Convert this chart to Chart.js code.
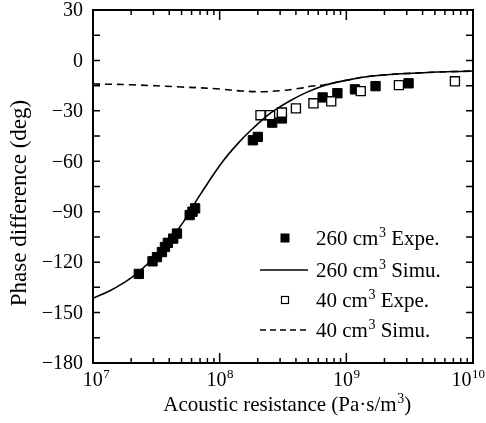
<!DOCTYPE html>
<html>
<head>
<meta charset="utf-8">
<script src="https://cdn.jsdelivr.net/npm/chart.js@4.4.0/dist/chart.umd.min.js"></script>
<style>
  html, body { margin: 0; padding: 0; background: #fff; }
  #wrap { width: 486px; height: 423px; }
</style>
</head>
<body>
<div id="wrap"><canvas id="chart" width="486" height="423"></canvas></div>
<script>
"use strict";

// measured values, 260 cm3 cavity
const exp260X = [2.3e7, 2.95e7, 3.2e7, 3.5e7, 3.7e7, 3.9e7, 4.3e7, 4.6e7, 5.8e7, 6.1e7, 6.4e7,
                 1.83e8, 2.0e8, 2.6e8, 3.1e8, 6.5e8, 8.5e8, 1.17e9, 1.7e9, 3.1e9];
const exp260Y = [-127, -119.5, -117, -114, -111, -108.5, -106, -103, -92, -90, -88,
                 -47.5, -45.5, -37, -34.5, -22, -19.5, -17.2, -15.3, -13.6];

// simulated, 260 cm3
const sim260X = [1e7, 1.36e7, 1.73e7, 2.2e7, 3.2e7, 4.86e7, 7.0e7, 1.06e8, 1.45e8, 1.74e8,
                 2.36e8, 2.8e8, 3.6e8, 4.85e8, 6.6e8, 8.9e8, 1.6e9, 4.1e9, 1e10];
const sim260Y = [-141.5, -137, -132.5, -127, -115.5, -99, -80, -60, -48, -42,
                 -33, -29, -24, -19, -15, -12.6, -9.3, -7.3, -6.3];

// measured, 40 cm3
const exp40X = [2.1e8, 2.5e8, 3.1e8, 4.0e8, 5.5e8, 7.6e8, 1.3e9, 2.6e9, 7.2e9];
const exp40Y = [-32.6, -32.6, -31, -28.5, -25.5, -24.3, -18.3, -14.7, -12.4];

// simulated, 40 cm3
const sim40X = [1e7, 2e7, 5e7, 1e8, 1.5e8, 2.2e8, 3e8, 4.3e8, 5.2e8, 6.6e8, 8.9e8, 1.6e9, 4.1e9, 1e10];
const sim40Y = [-14, -14.5, -15.8, -17, -18.2, -18.6, -18, -16.6, -15.4, -14.6, -12.6, -9.3, -7.3, -6.3];

const yTicks = [30, 0, -30, -60, -90, -120, -150, -180];
const xDecades = [7, 8, 9, 10];

const legendItems = ["260 cm|3| Expe.", "260 cm|3| Simu.", "40 cm|3| Expe.", "40 cm|3| Simu."];

const FONT = "'Liberation Serif', 'Times New Roman', serif";

function pairs(xs, ys) {
    let out = [];
    for (let i = 0; i < xs.length; i++) {
        out.push({x: xs[i], y: ys[i]});
    }
    return out;
}

// draws "base|sup|rest" text with a raised small superscript
function drawSupText(ctx, str, x, y, size, align) {
    let parts = str.split("|");
    let supSize = Math.round(size * 0.65);
    ctx.font = size + "px " + FONT;
    let w0 = ctx.measureText(parts[0]).width;
    let w2 = parts.length > 2 ? ctx.measureText(parts[2]).width : 0;
    ctx.font = supSize + "px " + FONT;
    let w1 = parts.length > 1 ? ctx.measureText(parts[1]).width : 0;
    let total = w0 + w1 + w2;
    let sx = x;
    if (align == "center") sx = x - total / 2;
    if (align == "right") sx = x - total;
    ctx.textAlign = "left";
    ctx.textBaseline = "alphabetic";
    ctx.font = size + "px " + FONT;
    ctx.fillText(parts[0], sx, y);
    if (parts.length > 1) {
        ctx.font = supSize + "px " + FONT;
        ctx.fillText(parts[1], sx + w0 + 0.5, y - size * 0.4);
    }
    if (parts.length > 2) {
        ctx.font = size + "px " + FONT;
        ctx.fillText(parts[2], sx + w0 + w1 + 0.5, y);
    }
}

const decorPlugin = {
    id: "decor",
    afterDatasetsDraw(chart) {
        const ctx = chart.ctx;
        const area = chart.chartArea;
        const xs = chart.scales.x;
        const ys = chart.scales.y;
        ctx.save();
        ctx.strokeStyle = "#000";
        ctx.fillStyle = "#000";

        // ticks pointing inwards, top/bottom
        ctx.lineWidth = 1.5;
        for (let d = 7; d <= 10; d++) {
            for (let m = 1; m <= 9; m++) {
                if (d == 10 && m > 1) break;
                let px = xs.getPixelForValue(m * Math.pow(10, d));
                let len = (m == 1) ? 10 : 5;
                ctx.beginPath();
                ctx.moveTo(px, area.bottom);
                ctx.lineTo(px, area.bottom - len);
                ctx.moveTo(px, area.top);
                ctx.lineTo(px, area.top + len);
                ctx.stroke();
            }
        }
        // left/right ticks every 15 deg
        for (let v = -180; v <= 30; v += 15) {
            let py = ys.getPixelForValue(v);
            ctx.beginPath();
            ctx.moveTo(area.left, py);
            ctx.lineTo(area.left + 7, py);
            ctx.moveTo(area.right, py);
            ctx.lineTo(area.right - 7, py);
            ctx.stroke();
        }

        // frame
        ctx.lineWidth = 2;
        ctx.strokeRect(area.left, area.top, area.right - area.left, area.bottom - area.top);

        // y tick labels
        ctx.font = "20px " + FONT;
        ctx.textAlign = "right";
        ctx.textBaseline = "middle";
        for (let i = 0; i < yTicks.length; i++) {
            let label = yTicks[i] < 0 ? "\u2212" + Math.abs(yTicks[i]) : String(yTicks[i]);
            ctx.fillText(label, area.left - 10, ys.getPixelForValue(yTicks[i]) + 1);
        }

        // x tick labels 10^n
        for (let i = 0; i < xDecades.length; i++) {
            let px = xs.getPixelForValue(Math.pow(10, xDecades[i]));
            let shift = xDecades[i] == 7 ? 3 : (xDecades[i] == 10 ? -5 : 0);
            drawSupText(ctx, "10|" + xDecades[i], px + shift, area.bottom + 23, 20, "center");
        }

        // axis titles
        drawSupText(ctx, "Acoustic resistance (Pa\u00b7s/m|3|)", 287, 411, 21, "center");
        ctx.save();
        ctx.translate(26, 203);
        ctx.rotate(-Math.PI / 2);
        ctx.font = "23px " + FONT;
        ctx.textAlign = "center";
        ctx.textBaseline = "alphabetic";
        ctx.fillText("Phase difference (deg)", 0, 0);
        ctx.restore();

        // legend
        let rows = [238, 270, 300, 330];
        let markX = 285;
        for (let i = 0; i < legendItems.length; i++) {
            let ry = rows[i];
            if (i == 0) {
                ctx.fillRect(markX - 4.5, ry - 4.5, 9, 9);
            } else if (i == 2) {
                ctx.lineWidth = 1.2;
                ctx.strokeRect(markX - 3.5, ry - 3.5, 7, 7);
            } else {
                ctx.lineWidth = 1.5;
                ctx.setLineDash(i == 3 ? [6, 4] : []);
                ctx.beginPath();
                ctx.moveTo(260, ry);
                ctx.lineTo(308, ry);
                ctx.stroke();
                ctx.setLineDash([]);
            }
            drawSupText(ctx, legendItems[i], 316, ry + 7, 21, "left");
        }
        ctx.restore();
    }
};

new Chart(document.getElementById("chart").getContext("2d"), {
    type: "scatter",
    data: {
        datasets: [
            {
                label: "40 cm3 Simu.",
                type: "line",
                data: pairs(sim40X, sim40Y),
                borderColor: "#000",
                borderWidth: 1.6,
                borderDash: [7, 5],
                pointRadius: 0,
                tension: 0.4,
                fill: false
            },
            {
                label: "260 cm3 Simu.",
                type: "line",
                data: pairs(sim260X, sim260Y),
                borderColor: "#000",
                borderWidth: 1.6,
                pointRadius: 0,
                tension: 0.4,
                fill: false
            },
            {
                label: "40 cm3 Expe.",
                data: pairs(exp40X, exp40Y),
                pointStyle: "rect",
                pointRadius: 6.4,
                pointBackgroundColor: "#fff",
                pointBorderColor: "#000",
                pointBorderWidth: 1.3
            },
            {
                label: "260 cm3 Expe.",
                data: pairs(exp260X, exp260Y),
                pointStyle: "rect",
                pointRadius: 6.6,
                pointBackgroundColor: "#000",
                pointBorderColor: "#000",
                pointBorderWidth: 1
            }
        ]
    },
    options: {
        responsive: false,
        animation: false,
        layout: { padding: { top: 10, right: 13, left: 0, bottom: 0 } },
        plugins: {
            legend: { display: false },
            tooltip: { enabled: false }
        },
        scales: {
            x: {
                type: "logarithmic",
                min: 1e7,
                max: 1e10,
                grid: { display: false },
                border: { display: false },
                ticks: { display: false },
                afterFit(scale) { scale.height = 60; }
            },
            y: {
                type: "linear",
                min: -180,
                max: 30,
                grid: { display: false },
                border: { display: false },
                ticks: { display: false },
                afterFit(scale) { scale.width = 93; }
            }
        }
    },
    plugins: [decorPlugin]
});
</script>
</body>
</html>
